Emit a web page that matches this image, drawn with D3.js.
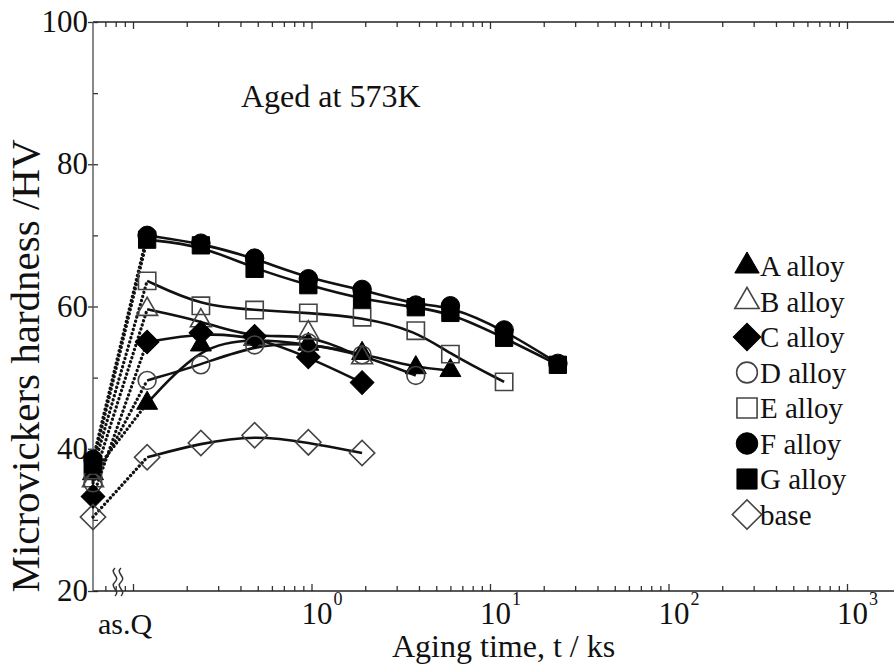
<!DOCTYPE html>
<html>
<head>
<meta charset="utf-8">
<script src="https://cdnjs.cloudflare.com/ajax/libs/d3/7.8.5/d3.min.js"></script>
<style>
  body { margin: 0; background: #fff; }
  text { font-family: "Liberation Serif", "Times New Roman", serif; fill: #111; }
</style>
</head>
<body>
<div id="chart"></div>
<script>
// aging times in ks (after the as-quenched state)
var agingTimes = [0.12, 0.24, 0.48, 0.96, 1.92, 3.84, 6, 12, 24];

var seriesNames = ['A alloy', 'B alloy', 'C alloy', 'D alloy', 'E alloy', 'F alloy', 'G alloy', 'base'];

// hardness of the as-quenched samples (HV)
var asQuenched = [36.5, 35.5, 33.3, 35.2, 37.0, 38.5, 37.8, 30.4];

// hardness after aging, one value per aging time (HV)
var hvA = [46.4, 54.6, 55.5, 54.7, 53.4, 51.4, 51.0];
var hvB = [59.6, 58.0, 55.4, 56.3, 52.8];
var hvC = [55.0, 56.3, 55.8, 52.9, 49.3];
var hvD = [49.6, 51.8, 54.6, 54.9, 53.2, 50.3];
var hvE = [63.6, 60.1, 59.5, 59.1, 58.5, 56.6, 53.3, 49.4];
var hvF = [70.0, 68.9, 66.8, 63.9, 62.4, 60.2, 60.1, 56.7, 52.0];
var hvG = [69.4, 68.6, 65.3, 63.0, 61.0, 59.9, 59.1, 55.6, 51.8];
var hvBase = [38.8, 40.8, 41.9, 40.9, 39.4];

var yTicks = [20, 40, 60, 80, 100];
var yMinorTicks = [30, 50, 70, 90];
var xDecades = [0, 1, 2, 3];

var allSeries = [hvA, hvB, hvC, hvD, hvE, hvF, hvG, hvBase];

((() => {

// marker look for each series
var markers = [
  {type: d3.symbolTriangle, size: 190, fill: true, rot: 0},
  {type: d3.symbolTriangle, size: 190, fill: false, rot: 0},
  {type: d3.symbolSquare, size: 280, fill: true, rot: 45},
  {type: d3.symbolCircle, size: 250, fill: false, rot: 0},
  {type: d3.symbolSquare, size: 300, fill: false, rot: 0},
  {type: d3.symbolCircle, size: 270, fill: true, rot: 0},
  {type: d3.symbolSquare, size: 300, fill: true, rot: 0},
  {type: d3.symbolSquare, size: 320, fill: false, rot: 45}
];

var width = 894, height = 666;
var pLeft = 93, pRight = 894, pTop = 22, pBottom = 591;

var svg = d3.select('#chart')
  .append('svg')
  .attr('width', width)
  .attr('height', height)
  .style('background-color', '#fff');

var x = d3.scaleLog().domain([0.1, 1000]).range([133, 847]);
var y = d3.scaleLinear().domain([20, 100]).range([pBottom, pTop]);

// log ticks, minor and major, inside the visible part of the axis
var minorVals = [], majorVals = [];
d3.range(-2, 4).forEach(function(d) {
  d3.range(1, 10).forEach(function(k) {
    var v = k * Math.pow(10, d);
    if (x(v) > pLeft + 4 && x(v) <= pRight) {
      if (k === 1) majorVals.push(v); else minorVals.push(v);
    }
  });
});

function tickAxis(axisFn, vals, size, ty) {
  svg.append('g')
    .attr('transform', 'translate(0,' + ty + ')')
    .call(axisFn(x).tickValues(vals).tickSize(size).tickFormat(''))
    .call(function(g) { g.select('.domain').remove(); })
    .selectAll('line').attr('stroke', '#333').attr('stroke-width', 1.3);
}
tickAxis(d3.axisBottom, minorVals, -5, pBottom);
tickAxis(d3.axisBottom, majorVals, -7, pBottom);
tickAxis(d3.axisTop, minorVals, -5, pTop);
tickAxis(d3.axisTop, majorVals, -7, pTop);

// y ticks
svg.append('g')
  .attr('transform', 'translate(' + pLeft + ',0)')
  .call(d3.axisLeft(y).tickValues(yTicks).tickSize(5).tickFormat(''))
  .call(function(g) { g.select('.domain').remove(); })
  .selectAll('line').attr('stroke', '#333').attr('stroke-width', 1.3);
svg.append('g')
  .attr('transform', 'translate(' + pLeft + ',0)')
  .call(d3.axisRight(y).tickValues(yTicks.concat(yMinorTicks)).tickSize(5).tickFormat(''))
  .call(function(g) { g.select('.domain').remove(); })
  .selectAll('line').attr('stroke', '#333').attr('stroke-width', 1.3);

// axis frame lines
svg.append('line').attr('x1', pLeft).attr('x2', pRight).attr('y1', pBottom).attr('y2', pBottom)
  .attr('stroke', '#222').attr('stroke-width', 1.6);
svg.append('line').attr('x1', pLeft).attr('x2', pRight).attr('y1', pTop).attr('y2', pTop)
  .attr('stroke', '#222').attr('stroke-width', 1.6);
svg.append('line').attr('x1', pLeft).attr('x2', pLeft).attr('y1', pTop).attr('y2', pBottom)
  .attr('stroke', '#555').attr('stroke-width', 1.4);

// y tick labels
svg.selectAll('.ylab')
  .data(yTicks)
  .enter().append('text')
  .attr('class', 'ylab')
  .attr('x', 88)
  .attr('y', function(d) { return y(d) + 10; })
  .attr('text-anchor', 'end')
  .style('font-size', '31px')
  .text(function(d) { return d; });

// x tick labels 10^n
xDecades.forEach(function(d) {
  var t = svg.append('text')
    .attr('x', x(Math.pow(10, d)) - 10)
    .attr('y', 624)
    .style('font-size', '31px')
    .text('10');
  t.append('tspan')
    .attr('dy', -19)
    .attr('dx', 1)
    .style('font-size', '18px')
    .text(d);
});

svg.append('text')
  .attr('x', 98).attr('y', 634)
  .style('font-size', '30px')
  .text('as.Q');

// axis break mark
[0, 6].forEach(function(off) {
  var bx = 115 + off;
  svg.append('path')
    .attr('d', 'M' + bx + ',568 c-6,5 6,9 0,14 c-6,5 6,9 0,14')
    .attr('fill', 'none')
    .attr('stroke', '#333')
    .attr('stroke-width', 1.5);
});

// axis titles
svg.append('text')
  .attr('transform', 'translate(39,366) rotate(-90)')
  .attr('text-anchor', 'middle')
  .style('font-size', '41px')
  .text('Microvickers hardness /HV');

svg.append('text')
  .attr('x', 392).attr('y', 657)
  .style('font-size', '32px')
  .text('Aging time, t / ks');

svg.append('text')
  .attr('x', 241).attr('y', 107)
  .style('font-size', '32px')
  .text('Aged at 573K');

// dotted lines from the as-quenched point to the first aged point
allSeries.forEach(function(vals, i) {
  svg.append('line')
    .attr('x1', pLeft).attr('y1', y(asQuenched[i]))
    .attr('x2', x(agingTimes[0])).attr('y2', y(vals[0]))
    .attr('stroke', '#111')
    .attr('stroke-width', 3.3)
    .attr('stroke-linecap', 'round')
    .attr('stroke-dasharray', '0.1 4.2');
});

// fitted curves
var fit = d3.line()
  .x(function(d, i) { return x(agingTimes[i]); })
  .y(function(d) { return y(d); })
  .curve(d3.curveBasis);

allSeries.forEach(function(vals) {
  svg.append('path')
    .datum(vals)
    .attr('fill', 'none')
    .attr('stroke', '#111')
    .attr('stroke-width', 2.6)
    .attr('d', fit);
});

function drawMarker(g, m, px, py, scale) {
  g.append('path')
    .attr('d', d3.symbol().type(m.type).size(m.size * (scale || 1))())
    .attr('transform', 'translate(' + px + ',' + py + ') rotate(' + m.rot + ')')
    .attr('fill', m.fill ? '#000' : 'none')
    .attr('stroke', m.fill ? '#000' : '#444')
    .attr('stroke-width', m.fill ? 1 : 1.6);
}

var markerLayer = svg.append('g');
allSeries.forEach(function(vals, i) {
  drawMarker(markerLayer, markers[i], pLeft, y(asQuenched[i]));
  vals.forEach(function(v, j) {
    drawMarker(markerLayer, markers[i], x(agingTimes[j]), y(v));
  });
});

// legend
seriesNames.forEach(function(name, i) {
  var ly = 266 + 35.5 * i;
  drawMarker(svg, markers[i], 747, ly, 1.35);
  svg.append('text')
    .attr('x', 760).attr('y', ly + 10)
    .style('font-size', '29px')
    .text(name);
});

})());
</script>
</body>
</html>
